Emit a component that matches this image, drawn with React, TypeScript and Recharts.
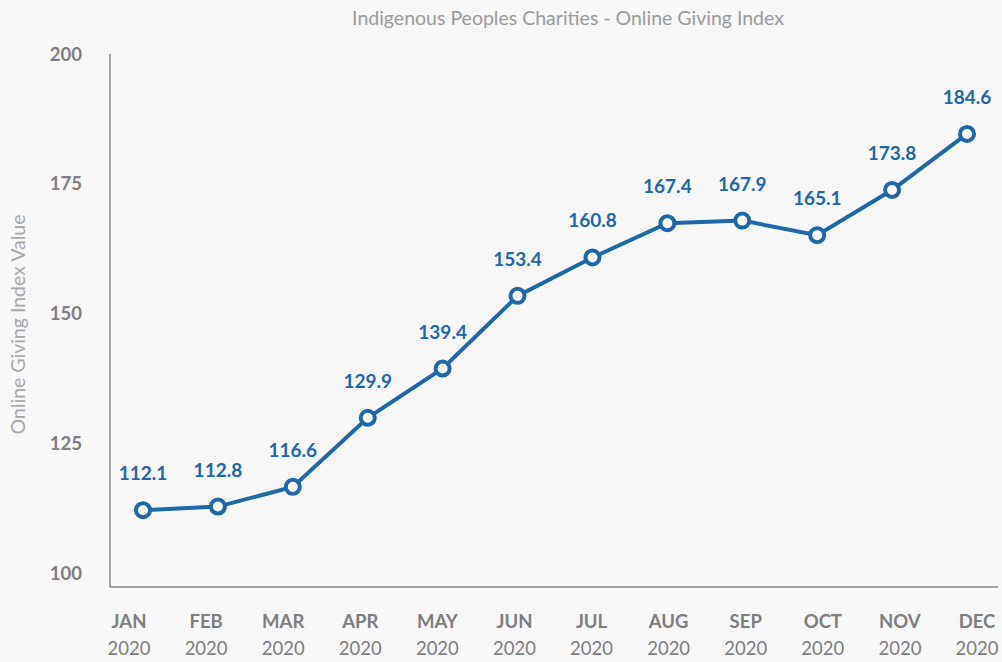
import React from 'react'
import { LineChart, Line, XAxis, YAxis, LabelList } from 'recharts'

const months = ['JAN', 'FEB', 'MAR', 'APR', 'MAY', 'JUN', 'JUL', 'AUG', 'SEP', 'OCT', 'NOV', 'DEC']
const years = ['2020', '2020', '2020', '2020', '2020', '2020', '2020', '2020', '2020', '2020', '2020', '2020']
const indexValues = [112.1, 112.8, 116.6, 129.9, 139.4, 153.4, 160.8, 167.4, 167.9, 165.1, 173.8, 184.6]
const yTicks = [100, 125, 150, 175, 200]

const data = months.map((m, i) => ({ key: `${m} ${years[i]}`, month: m, year: years[i], value: indexValues[i] }))

const BLUE = '#2067a9'
const GRAY = '#7d7d80'
const FONT = 'Lato, "Open Sans", sans-serif'

function MonthTick(props: any) {
  const { x, y, payload } = props
  const [m, yr] = String(payload.value).split(' ')
  return (
    <g transform={`translate(${x},${y})`}>
      <text x={0} y={0} dy={33} textAnchor="middle" fill={GRAY} fontSize={18.5} fontWeight={700} fontFamily={FONT}>
        {m}
      </text>
      <text x={0} y={0} dy={60} textAnchor="middle" fill={GRAY} fontSize={18.5} fontFamily={FONT}>
        {yr}
      </text>
    </g>
  )
}

export default function App() {
  return (
    <div style={{ position: 'absolute', left: 0, top: 0, width: 1002, height: 662, background: '#f7f7f7', fontFamily: FONT }}>
      <div style={{ position: 'absolute', top: 6, left: 0, width: 1136, textAlign: 'center', color: '#9b9b9b', fontSize: 19.5 }}>
        Indigenous Peoples Charities - Online Giving Index
      </div>
      <LineChart width={1002} height={662} data={data} margin={{ top: 54, right: 4, left: 0, bottom: 0 }}>
        <XAxis
          xAxisId="pts"
          dataKey="key"
          type="category"
          height={0}
          tick={false}
          tickLine={false}
          axisLine={false}
          padding={{ left: 33, right: 31 }}
        />
        <XAxis
          xAxisId="lbl"
          dataKey="key"
          type="category"
          height={75}
          axisLine={{ stroke: '#8a8a8e', strokeWidth: 1.5 }}
          tickLine={false}
          interval={0}
          padding={{ left: 19, right: 21 }}
          tick={<MonthTick />}
        />
        <YAxis
          domain={[100, 200]}
          ticks={yTicks}
          width={110}
          padding={{ top: 0, bottom: 14 }}
          tickLine={false}
          tickSize={0}
          tickMargin={28}
          axisLine={{ stroke: '#8a8a8e', strokeWidth: 1.5 }}
          tick={{ fill: GRAY, fontSize: 18.5, fontWeight: 700, fontFamily: FONT }}
          label={{
            value: 'Online Giving Index Value',
            angle: -90,
            position: 'insideLeft',
            offset: 18,
            dy: 4,
            style: { textAnchor: 'middle', fill: '#a8a8a8', fontSize: 19.5, fontFamily: FONT },
          }}
        />
        <Line
          xAxisId="pts"
          type="linear"
          dataKey="value"
          stroke={BLUE}
          strokeWidth={4}
          dot={{ r: 7, fill: '#ffffff', stroke: BLUE, strokeWidth: 4 }}
          activeDot={false}
          isAnimationActive={false}
        >
          <LabelList
            dataKey="value"
            position="top"
            offset={30}
            fill={BLUE}
            fontSize={19}
            fontWeight={700}
            fontFamily={FONT}
            formatter={(v: any) => Number(v).toFixed(1)}
          />
        </Line>
      </LineChart>
    </div>
  )
}
